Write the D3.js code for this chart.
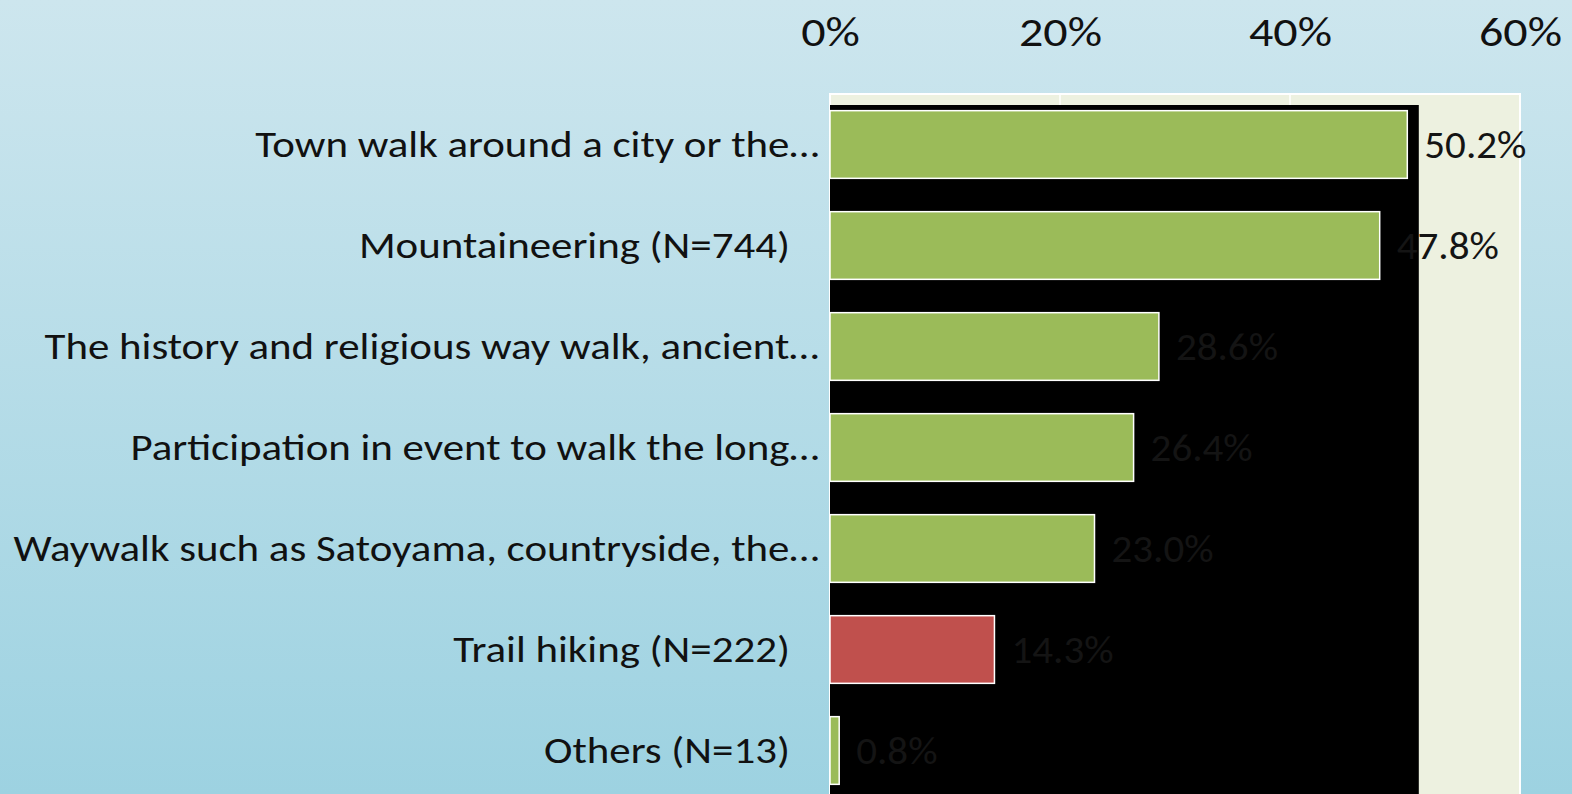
<!DOCTYPE html>
<html>
<head>
<meta charset="utf-8">
<script src="https://cdn.jsdelivr.net/npm/d3@7"></script>
<style>
  html, body { margin: 0; padding: 0; }
  svg { display: block; }
  text { font-family: Calibri, Carlito, Lato, sans-serif; white-space: pre; }
</style>
</head>
<body>
<svg id="chart" width="1572" height="794"></svg>
<script>
var categories = [
  "Town walk around a city or the\u2026",
  "Mountaineering (N=744)   ",
  "The history and religious way walk, ancient\u2026",
  "Participation in event to walk the long\u2026",
  "Waywalk such as Satoyama, countryside, the\u2026",
  "Trail hiking (N=222)   ",
  "Others (N=13)   "
];
var values = [50.2, 47.8, 28.6, 26.4, 23.0, 14.3, 0.8];
var highlighted = [false, false, false, false, false, true, false];
var tickValues = [0, 20, 40, 60];
var shadeEnd = 51.2;

var width = 1572, height = 794;
var plotLeft = 830, plotRight = 1520, plotTop = 94, plotBottom = 801;
// the source text is drawn wider than the fallback font, so stretch it
var catStretch = 1.16, valStretch = 1.08, tickStretch = 1.2;

var svg = d3.select("#chart");

var defs = svg.append("defs");
var grad = defs.append("linearGradient")
  .attr("id", "bg")
  .attr("x1", 0).attr("y1", 0).attr("x2", 0).attr("y2", 1);
grad.append("stop").attr("offset", "0%").attr("stop-color", "#cde6ee");
grad.append("stop").attr("offset", "100%").attr("stop-color", "#9dd2e1");

svg.append("rect")
  .attr("width", width).attr("height", height)
  .attr("fill", "url(#bg)");

var x = d3.scaleLinear().domain([0, 60]).range([plotLeft, plotRight]);
var y = d3.scaleBand()
  .domain(categories)
  .range([plotTop, plotBottom])
  .paddingInner(0.33)
  .paddingOuter(0.165);

// plot area
svg.append("rect")
  .attr("x", x(0)).attr("y", plotTop)
  .attr("width", x(60) - x(0)).attr("height", plotBottom - plotTop)
  .attr("fill", "#edf1e0")
  .attr("stroke", "#ffffff")
  .attr("stroke-width", 2);

// gridlines
svg.append("g")
  .selectAll("line")
  .data(tickValues.slice(1, -1))
  .join("line")
  .attr("x1", d => x(d)).attr("x2", d => x(d))
  .attr("y1", plotTop).attr("y2", plotBottom)
  .attr("stroke", "#ffffff")
  .attr("stroke-width", 1.5);

// dark panel behind bars
svg.append("rect")
  .attr("x", x(0)).attr("y", plotTop + 11)
  .attr("width", x(shadeEnd) - x(0)).attr("height", plotBottom - plotTop)
  .attr("fill", "#000000");

// axis labels at top
var axis = d3.axisTop(x)
  .tickValues(tickValues)
  .tickFormat(d => d + "%")
  .tickSize(0)
  .tickPadding(0);

var gAxis = svg.append("g")
  .attr("transform", "translate(0,46)")
  .call(axis)
  .attr("font-family", null)
  .attr("font-size", null);
gAxis.select(".domain").remove();
gAxis.selectAll("text")
  .attr("font-size", 40)
  .attr("fill", "#111111")
  .attr("dy", 0)
  .attr("transform", "scale(" + tickStretch + ",1)");

// bars
svg.append("g")
  .selectAll("rect")
  .data(values)
  .join("rect")
  .attr("x", x(0))
  .attr("y", (d, i) => y(categories[i]))
  .attr("width", d => x(d) - x(0))
  .attr("height", y.bandwidth())
  .attr("fill", (d, i) => highlighted[i] ? "#c0504d" : "#9bbb59")
  .attr("stroke", "#ffffff")
  .attr("stroke-width", 1.5);

// value labels
svg.append("g")
  .selectAll("text")
  .data(values)
  .join("text")
  .attr("transform", (d, i) =>
    "translate(" + (x(d) + 17) + "," + (y(categories[i]) + y.bandwidth() / 2) + ") scale(" + valStretch + ",1)")
  .attr("dy", "0.35em")
  .attr("font-size", 38)
  .attr("fill", "#141414")
  .text(d => d.toFixed(1) + "%");

// category labels
svg.append("g")
  .selectAll("text")
  .data(categories)
  .join("text")
  .attr("transform", d =>
    "translate(819," + (y(d) + y.bandwidth() / 2) + ") scale(" + catStretch + ",1)")
  .attr("dy", "0.35em")
  .attr("text-anchor", "end")
  .attr("font-size", 37)
  .attr("fill", "#111111")
  .text(d => d);
</script>
</body>
</html>
